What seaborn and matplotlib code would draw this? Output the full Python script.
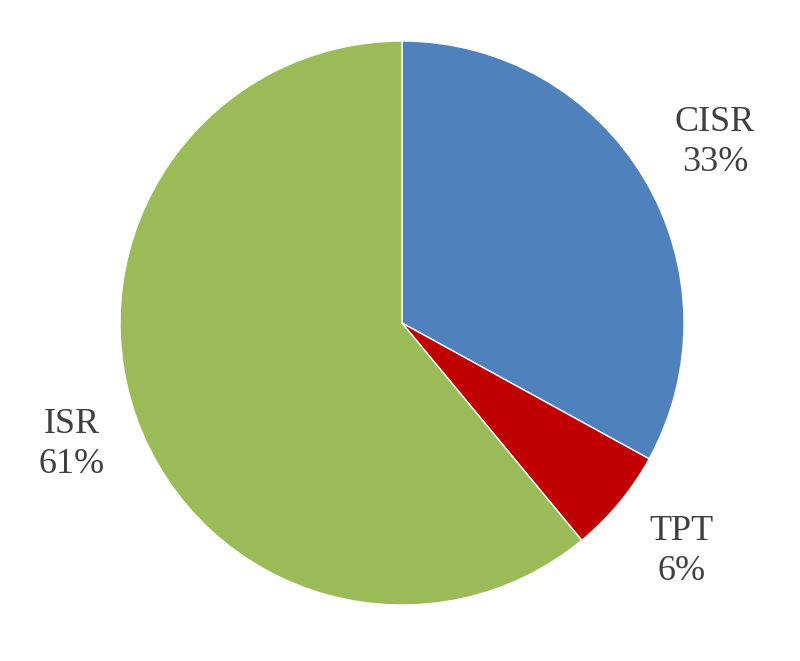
import matplotlib
matplotlib.use("Agg")
import matplotlib.pyplot as plt
import seaborn as sns

sns.set_theme(style="white")
plt.rcParams['font.family'] = ['Liberation Serif', 'DejaVu Serif']

labels = ["CISR", "TPT", "ISR"]
shares = [33, 6, 61]
colors = ["#4F81BD", "#C00000", "#9BBB59"]
label_xy = [(1.11, 0.64), (0.99, -0.81), (-1.17, -0.43)]

fig = plt.figure(figsize=(8, 6.61), dpi=100)
ax = fig.add_axes([120 / 800, 56 / 661, 564 / 800, 564 / 661])
ax.pie(shares, colors=colors, startangle=90, counterclock=False, radius=1,
       wedgeprops=dict(edgecolor="white", linewidth=1))
ax.set_xlim(-1, 1)
ax.set_ylim(-1, 1)
ax.axis("off")

for name, val, (x, y) in zip(labels, shares, label_xy):
    ax.text(x, y, f"{name}\n{val}%", ha="center", va="center", fontsize=26,
            color="#404040", linespacing=1.3, clip_on=False)

fig.savefig("out.png", dpi=100)
